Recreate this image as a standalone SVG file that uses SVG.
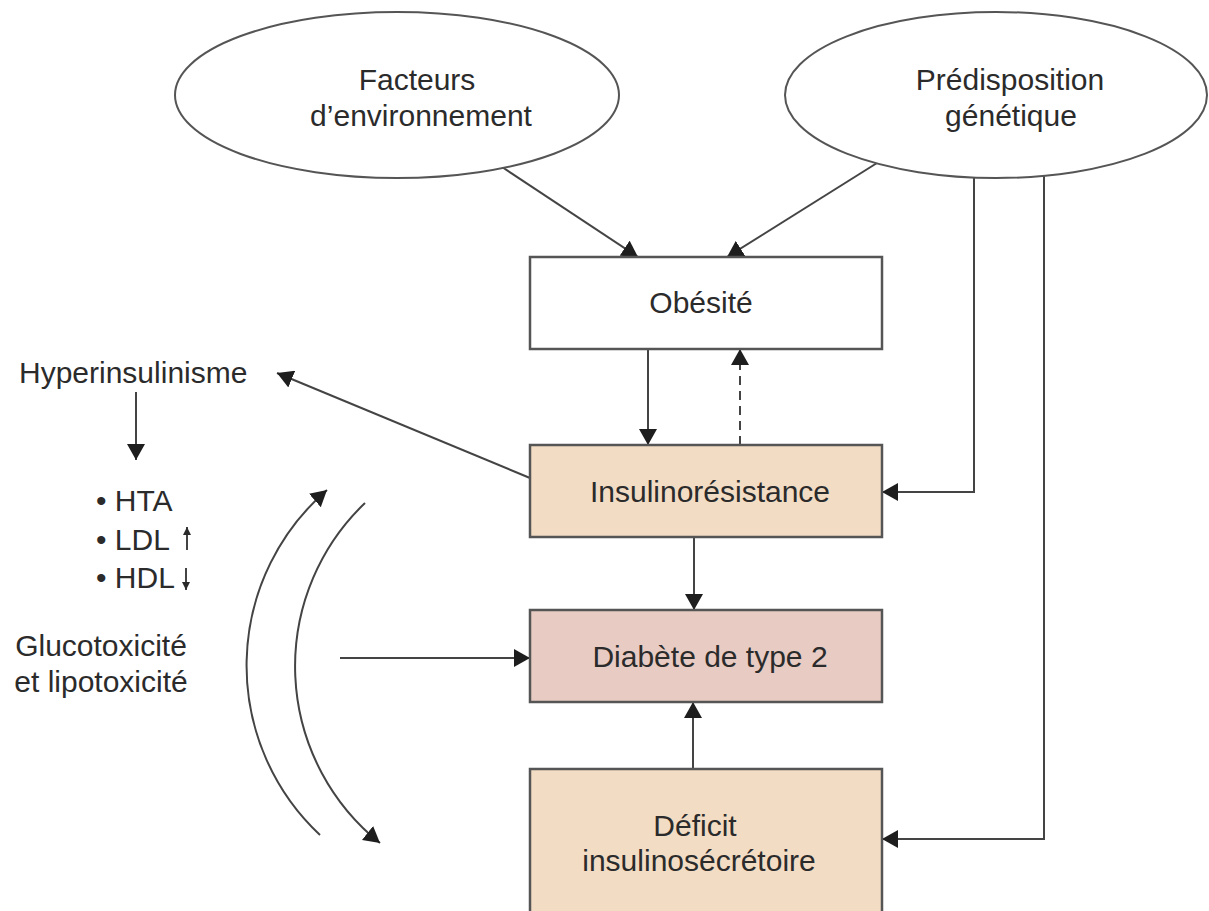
<svg xmlns="http://www.w3.org/2000/svg" width="1209" height="911" viewBox="0 0 1209 911">
<defs>
<style>
.t{font-family:"Liberation Sans",Arial,sans-serif;font-size:30px;fill:#2b2b2b}
.c{text-anchor:middle}
.ell{fill:#fff;stroke:#555;stroke-width:2}
.box{stroke:#555;stroke-width:2.5}
.ln{fill:none;stroke:#444;stroke-width:2}
</style>
<marker id="ah" markerUnits="userSpaceOnUse" viewBox="0 0 16 18" markerWidth="16" markerHeight="18" refX="16" refY="9" orient="auto">
<path d="M0,0 L16,9 L0,18 z" fill="#1e1e1e"/>
</marker>
<marker id="sm" markerUnits="userSpaceOnUse" viewBox="0 0 8 8" markerWidth="8" markerHeight="8" refX="8" refY="4" orient="auto">
<path d="M0,0 L8,4 L0,8 z" fill="#2b2b2b"/>
</marker>
</defs>
<rect width="1209" height="911" fill="#fff"/>

<g id="connectors">
<line class="ln" x1="502" y1="167" x2="638" y2="257" marker-end="url(#ah)"/>
<line class="ln" x1="877" y1="163" x2="727" y2="257" marker-end="url(#ah)"/>
<line class="ln" x1="648" y1="349" x2="648" y2="445" marker-end="url(#ah)"/>
<line class="ln" x1="740" y1="445" x2="740" y2="349" stroke-dasharray="9,6" marker-end="url(#ah)"/>
<polyline class="ln" points="974,177 974,492 882,492" marker-end="url(#ah)"/>
<polyline class="ln" points="1044,175 1044,839 882,839" marker-end="url(#ah)"/>
<line class="ln" x1="530" y1="478" x2="277" y2="373" marker-end="url(#ah)"/>
<line class="ln" x1="136" y1="392" x2="136" y2="460" marker-end="url(#ah)"/>
<line class="ln" x1="694" y1="537" x2="694" y2="610" marker-end="url(#ah)"/>
<line class="ln" x1="693" y1="770" x2="693" y2="702" marker-end="url(#ah)"/>
<line class="ln" x1="340" y1="658" x2="530" y2="658" marker-end="url(#ah)"/>
<path class="ln" d="M320,835 A232,232 0 0 1 327,490" marker-end="url(#ah)"/>
<path class="ln" d="M365,503 A226,226 0 0 0 380,843" marker-end="url(#ah)"/>
</g>

<g id="facteurs">
<ellipse class="ell" cx="397" cy="95" rx="222" ry="83"/>
<text class="t c" x="417" y="90">Facteurs</text>
<text class="t c" x="421" y="126">d’environnement</text>
</g>

<g id="predisposition">
<ellipse class="ell" cx="996" cy="95" rx="211" ry="83"/>
<text class="t c" x="1010" y="90">Prédisposition</text>
<text class="t c" x="1011" y="126">génétique</text>
</g>

<g id="obesite">
<rect class="box" x="530" y="257" width="352" height="92" fill="#fff"/>
<text class="t c" x="701" y="313">Obésité</text>
</g>

<g id="insulinoresistance">
<rect class="box" x="530" y="445" width="352" height="92" fill="#f3dcc4"/>
<text class="t c" x="710" y="502">Insulinorésistance</text>
</g>

<g id="diabete">
<rect class="box" x="530" y="610" width="352" height="92" fill="#e8cbc3"/>
<text class="t c" x="710" y="667">Diabète de type 2</text>
</g>

<g id="deficit">
<rect class="box" x="530" y="769" width="352" height="150" fill="#f3dcc4"/>
<text class="t c" x="695" y="836">Déficit</text>
<text class="t c" x="699" y="871">insulinosécrétoire</text>
</g>

<g id="hyperinsulinisme">
<text class="t" x="19" y="383">Hyperinsulinisme</text>
</g>

<g id="effets">
<text class="t" x="96" y="511">• HTA</text>
<text class="t" x="96" y="550">• LDL</text>
<text class="t" x="96" y="588">• HDL</text>
<line class="ln" x1="187" y1="550" x2="187" y2="527" stroke-width="2" marker-end="url(#sm)"/>
<line class="ln" x1="186" y1="568" x2="186" y2="590" stroke-width="2" marker-end="url(#sm)"/>
</g>

<g id="toxicite">
<text class="t c" x="101" y="656">Glucotoxicité</text>
<text class="t c" x="101" y="692">et lipotoxicité</text>
</g>
</svg>
